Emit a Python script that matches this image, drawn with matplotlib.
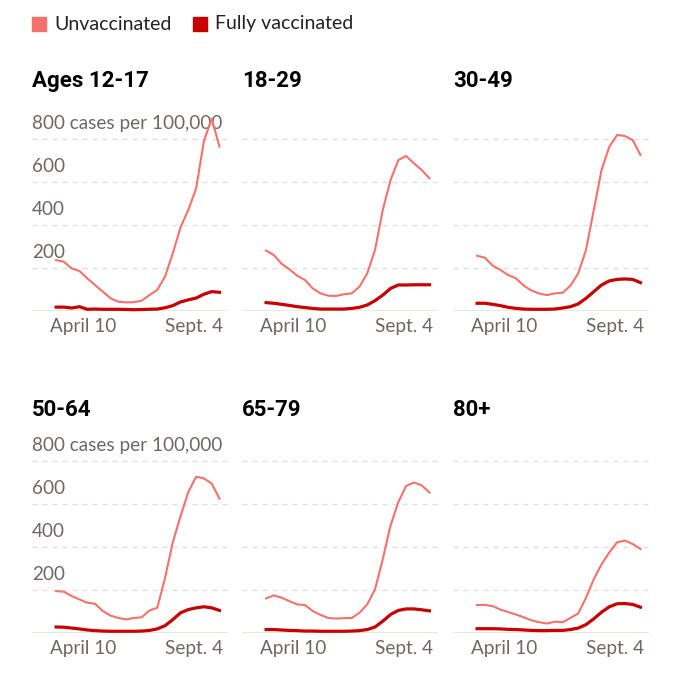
import numpy as np
import matplotlib
matplotlib.use("Agg")
import matplotlib.pyplot as plt
from matplotlib.transforms import offset_copy

# weekly values, April 10 -> Sept. 4 (cases per 100,000)
groups = ["Ages 12-17", "18-29", "30-49", "50-64", "65-79", "80+"]

unvax_12_17 = [237, 229, 198, 186, 152, 121, 90, 59, 43, 40, 41, 48, 74, 98, 160, 268, 390, 470, 570, 790, 895, 765]
vax_12_17 = [18, 18, 14, 20, 8, 9, 8, 8, 8, 7, 6, 7, 8, 9, 15, 25, 42, 52, 60, 78, 90, 87]

unvax_18_29 = [281, 260, 219, 194, 164, 144, 105, 82, 71, 70, 78, 82, 113, 175, 284, 470, 609, 702, 721, 687, 656, 617]
vax_18_29 = [39, 36, 31, 26, 20, 16, 12, 9, 9, 9, 9, 12, 17, 28, 48, 74, 105, 121, 121, 122, 122, 122]

unvax_30_49 = [257, 248, 211, 191, 167, 152, 118, 95, 81, 74, 82, 85, 118, 175, 284, 470, 656, 764, 819, 814, 795, 726]
vax_30_49 = [36, 36, 31, 25, 17, 12, 9, 8, 8, 8, 9, 14, 20, 33, 59, 90, 121, 140, 147, 149, 147, 132]

unvax_50_64 = [195, 192, 172, 156, 141, 136, 102, 81, 70, 63, 70, 73, 105, 117, 255, 422, 544, 656, 727, 719, 695, 625]
vax_50_64 = [28, 27, 23, 19, 14, 11, 9, 8, 8, 8, 8, 9, 12, 19, 34, 62, 94, 109, 117, 122, 117, 105]

unvax_65_79 = [161, 175, 164, 148, 133, 130, 102, 84, 70, 67, 69, 70, 94, 133, 203, 344, 500, 609, 684, 700, 687, 653]
vax_65_79 = [16, 16, 14, 12, 11, 9, 9, 8, 8, 8, 8, 9, 11, 16, 28, 55, 86, 105, 112, 112, 108, 103]

unvax_80 = [130, 131, 125, 109, 97, 86, 73, 59, 50, 44, 53, 50, 70, 91, 164, 250, 320, 375, 422, 430, 414, 391]
vax_80 = [20, 20, 20, 19, 17, 16, 14, 12, 11, 11, 12, 12, 16, 23, 39, 66, 97, 122, 136, 137, 133, 120]

unvax = [unvax_12_17, unvax_18_29, unvax_30_49, unvax_50_64, unvax_65_79, unvax_80]
vax = [vax_12_17, vax_18_29, vax_30_49, vax_50_64, vax_65_79, vax_80]

date_labels = ["April 10", "Sept. 4"]
y_ticks = [200, 400, 600, 800]

c_unvax = "#f4716e"
c_vax = "#c80000"
c_text = "#6e6863"
body_font = ["Lato", "DejaVu Sans"]
title_font = ["Liberation Sans Narrow", "Roboto", "DejaVu Sans"]
fs = 13.6

fig = plt.figure(figsize=(6.8, 6.8), dpi=100)

lefts = [32 / 680, 242 / 680, 453 / 680]
bottoms = [(680 - 311) / 680, (680 - 633) / 680]
w = 196 / 680
h = 193.5 / 680
title_y = [1072, 1035]

for i in range(6):
    row, col = divmod(i, 3)
    ax = fig.add_axes([lefts[col], bottoms[row], w, h])
    x = np.arange(len(unvax[i]))
    ax.set_xlim(-3.1, 22.1)
    ax.set_ylim(0, 900)

    for v in [200, 400, 600, 800]:
        ax.axhline(v, color="#e2ddd6", lw=0.9, ls=(0, (4, 4)), zorder=1)
    ax.axhline(0, color="#e8e1d8", lw=1.2, zorder=1)

    ax.plot(x, unvax[i], color=c_unvax, lw=1.5, zorder=3, clip_on=False)
    ax.plot(x, vax[i], color=c_vax, lw=2.3, zorder=4, clip_on=False)

    for s in ax.spines.values():
        s.set_visible(False)
    ax.set_yticks([])
    ax.set_xticks([])

    # date labels
    ax.text(-0.8, -32, date_labels[0], ha="left", va="top", fontsize=fs,
            color=c_text, family=body_font)
    ax.text(21.4, -32, date_labels[1], ha="right", va="top", fontsize=fs,
            color=c_text, family=body_font)

    if col == 0:
        tr = offset_copy(ax.transData, fig=fig, x=0, y=7, units="dots")
        for v in y_ticks:
            lab = str(v) if v < 800 else "800 cases per 100,000"
            ax.text(-3.1, v, lab, ha="left", va="bottom", fontsize=fs,
                    color=c_text, family=body_font, transform=tr, zorder=2)

    ax.text(-3.1, title_y[row], groups[i], ha="left", va="center",
            fontsize=16, fontweight="bold", color="black", family=title_font)

# legend
fig.patches.append(plt.Rectangle((32 / 680, 1 - 31 / 680), 14 / 680, 14 / 680,
                                 transform=fig.transFigure, color=c_unvax))
fig.text(54 / 680, 1 - 24 / 680, "Unvaccinated", ha="left", va="center",
         fontsize=14, family=body_font, color="#222222")
fig.patches.append(plt.Rectangle((193 / 680, 1 - 31 / 680), 14 / 680, 14 / 680,
                                 transform=fig.transFigure, color=c_vax))
fig.text(215 / 680, 1 - 24 / 680, "Fully vaccinated", ha="left", va="center",
         fontsize=14, family=body_font, color="#222222")

fig.savefig("out.png", dpi=100, facecolor="white")
